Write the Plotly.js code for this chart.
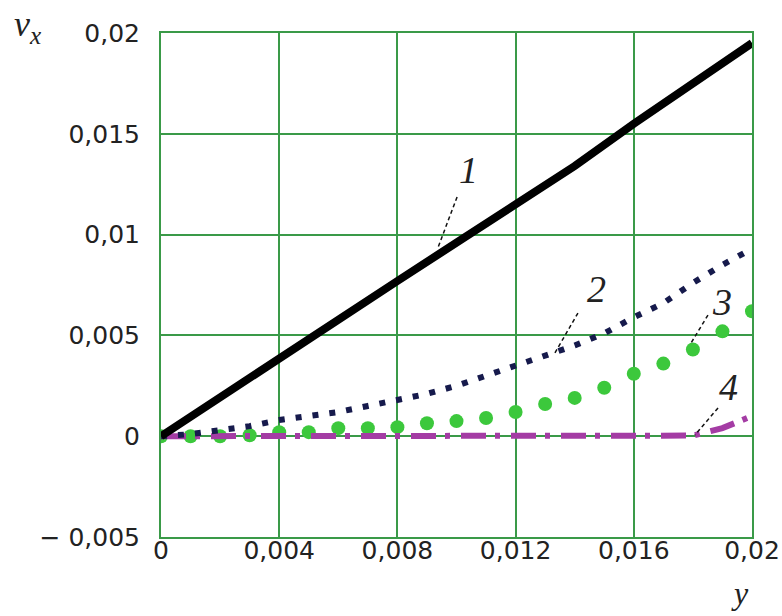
<!DOCTYPE html>
<html>
<head>
<meta charset="utf-8">
<script src="https://cdn.plot.ly/plotly-3.0.1.min.js"></script>
<style>html,body{margin:0;padding:0;background:#fff;}#chart{width:782px;height:616px;}</style>
</head>
<body>
<div id="chart"></div>
<script>
// ---- data ----
const yPos1 = [0, 0.002, 0.004, 0.006, 0.008, 0.010, 0.012, 0.014, 0.016, 0.018, 0.020];
const vx1   = [0, 0.00195, 0.0039, 0.0058, 0.0077, 0.0096, 0.0115, 0.0134, 0.0155, 0.0175, 0.0195];

const yPos = [0, 0.001, 0.002, 0.003, 0.004, 0.005, 0.006, 0.007, 0.008, 0.009, 0.010,
              0.011, 0.012, 0.013, 0.014, 0.015, 0.016, 0.017, 0.018, 0.019, 0.020];
const vx2 = [0, 0.0001, 0.0003, 0.0005, 0.0008, 0.0010, 0.0012, 0.0015, 0.0018, 0.0021, 0.0025,
             0.0030, 0.0035, 0.0040, 0.0045, 0.0051, 0.0059, 0.0066, 0.0076, 0.0085, 0.0093];
const vx3 = [0, 0, 0, 0.00005, 0.0002, 0.0002, 0.0004, 0.0004, 0.00045, 0.00064, 0.00075,
             0.0009, 0.0012, 0.0016, 0.0019, 0.0024, 0.0031, 0.0036, 0.0043, 0.0052, 0.0062];
const vx4 = [0, 0, 0, 0, 0, 0, 0, 0, 0, 0, 0,
             0, 0, 0, 0, 0, 0, 0, 0.00003, 0.0004, 0.0010];

const xTickVals = [0, 0.004, 0.008, 0.012, 0.016, 0.02];
const xTickText = ['0', '0,004', '0,008', '0,012', '0,016', '0,02'];
const yTickVals = [-0.005, 0, 0.005, 0.01, 0.015, 0.02];
const yTickText = ['\u2212 0,005', '0', '0,005', '0,01', '0,015', '0,02'];

const curveLabels = ['1', '2', '3', '4'];
const labelPos = [[0.01039, 0.01321], [0.01475, 0.00730], [0.01898, 0.00666], [0.01919, 0.00244]];
const leaderFrom = [[0.01002, 0.01187], [0.01411, 0.00611], [0.01851, 0.00601], [0.01885, 0.00140]];
const leaderTo = [[0.00937, 0.00934], [0.01333, 0.00413], [0.01790, 0.00453], [0.01807, 0.00006]];

// ---- traces ----
const traces = [
  {x: yPos, y: vx3, mode: 'markers', marker: {color: '#3cc83c', size: 14}, cliponaxis: true, hoverinfo: 'skip'},
  {x: yPos, y: vx4, mode: 'lines', line: {color: '#a43ca4', width: 6, dash: '25px,9px,5px,11px'}},
  {x: yPos, y: vx2, mode: 'lines', line: {color: '#161a4c', width: 6, dash: '6px,11px'}},
  {x: yPos1, y: vx1, mode: 'lines', line: {color: '#000000', width: 8}}
];

const gridColor = '#3a9a48';
const tickFont = {family: 'DejaVu Sans', size: 25, color: '#222'};
const serif = 'Liberation Serif';

const annotations = curveLabels.map((t, i) => ({
  x: labelPos[i][0], y: labelPos[i][1], xref: 'x', yref: 'y',
  text: '<i>' + t + '</i>', showarrow: false,
  font: {family: serif, size: 38, color: '#222'}, xanchor: 'center', yanchor: 'middle'
}));
annotations.push({
  xref: 'paper', yref: 'paper', x: -0.252, y: 1.062, xanchor: 'left', yanchor: 'top',
  text: '<i>v<sub>x</sub></i>', showarrow: false, font: {family: serif, size: 36, color: '#222'}
});
annotations.push({
  xref: 'paper', yref: 'paper', x: 0.98, y: -0.072, xanchor: 'center', yanchor: 'top',
  text: '<i>y</i>', showarrow: false, font: {family: serif, size: 32, color: '#222'}
});

const shapes = curveLabels.map((t, i) => ({
  type: 'line', xref: 'x', yref: 'y',
  x0: leaderFrom[i][0], y0: leaderFrom[i][1], x1: leaderTo[i][0], y1: leaderTo[i][1],
  line: {color: '#111', width: 1.5, dash: '4px,3px'}
}));

const layout = {
  width: 782, height: 616,
  margin: {l: 161, r: 30, t: 33, b: 79},
  paper_bgcolor: '#ffffff', plot_bgcolor: '#ffffff',
  showlegend: false,
  separators: ', ',
  xaxis: {
    range: [0, 0.02], tickvals: xTickVals, ticktext: xTickText,
    showgrid: true, gridcolor: gridColor, gridwidth: 2,
    zeroline: false, showline: true, linecolor: gridColor, linewidth: 2, mirror: true,
    ticks: '', ticklabelstandoff: -10,
    tickfont: tickFont
  },
  yaxis: {
    range: [-0.005, 0.02], tickvals: yTickVals, ticktext: yTickText,
    showgrid: true, gridcolor: gridColor, gridwidth: 2,
    zeroline: false, showline: true, linecolor: gridColor, linewidth: 2, mirror: true,
    ticks: 'outside', ticklen: 14, tickcolor: 'rgba(0,0,0,0)',
    tickfont: tickFont
  },
  annotations: annotations,
  shapes: shapes
};

Plotly.newPlot('chart', traces, layout, {staticPlot: true, displayModeBar: false});
</script>
</body>
</html>
